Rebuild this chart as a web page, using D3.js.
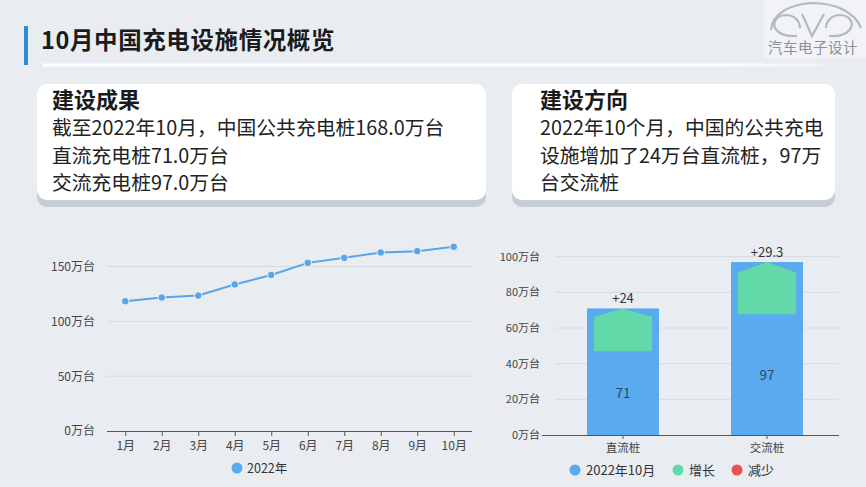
<!DOCTYPE html>
<html><head><meta charset="utf-8">
<script src="https://cdn.jsdelivr.net/npm/d3@7"></script>
<style>
html,body{margin:0;padding:0;background:#e9edf2;}
svg{display:block;font-family:"Noto Sans CJK SC","Noto Sans",sans-serif;}
</style></head>
<body>
<svg id="c" width="866" height="487"></svg>
<script>
// ---- data ----
const months = ["1月","2月","3月","4月","5月","6月","7月","8月","9月","10月"];
const totalPiles = [118.3, 121.7, 123.5, 133.6, 142.3, 153.3, 157.9, 162.8, 164.0, 168.0];
const lineTicks = [0, 50, 100, 150];
const lineSeriesName = "2022年";

const barCategories = ["直流桩", "交流桩"];
const barValues = [71, 97];
const barGrowth = [24, 29.3];
const barTicks = [0, 20, 40, 60, 80, 100];
const barLegend = ["2022年10月", "增长", "减少"];

const title = "10月中国充电设施情况概览";
const card1Title = "建设成果";
const card1Lines = ["截至2022年10月，中国公共充电桩168.0万台", "直流充电桩71.0万台", "交流充电桩97.0万台"];
const card2Title = "建设方向";
const card2Lines = ["2022年10个月，中国的公共充电", "设施增加了24万台直流桩，97万", "台交流桩"];
const logoText = "汽车电子设计";

// ---- colours ----
const blue = "#59aaef", green = "#62d9a9", red = "#e8514f", lineBlue = "#5aa5e6";

const svg = d3.select("#c");
const defs = svg.append("defs");
const g1 = defs.append("linearGradient").attr("id","wl").attr("x1","0").attr("x2","1");
g1.append("stop").attr("offset","0").attr("stop-color","#fff").attr("stop-opacity",1);
g1.append("stop").attr("offset","0.85").attr("stop-color","#fff").attr("stop-opacity",1);
g1.append("stop").attr("offset","1").attr("stop-color","#fff").attr("stop-opacity",0.3);

// header
svg.append("rect").attr("x",24).attr("y",26).attr("width",4).attr("height",39).attr("fill","#2b8fcf");
svg.append("text").attr("x",41).attr("y",48.5).attr("font-size",23.5).attr("font-weight",700)
  .attr("letter-spacing",0.6).attr("fill","#1b1b1b").text(title);
svg.append("rect").attr("x",43).attr("y",63.5).attr("width",782).attr("height",3).attr("fill","url(#wl)");

// logo
const logo = svg.append("g");
logo.append("rect").attr("x",764).attr("y",0).attr("width",102).attr("height",58).attr("fill","#f1f3f6");
const ls = {fill:"none", stroke:"#b4b8bf", "stroke-width":2.2};
function lp(d){ const p = logo.append("path").attr("d",d); Object.entries(ls).forEach(([k,v])=>p.attr(k,v)); }
lp("M771,30 C772,14 790,4 812,3 C835,3 855,12 861,28");
lp("M797,36 C770,38 768,16 786,15 C795,15 800,22 800,28");
lp("M829,36 C856,38 858,16 840,15 C831,15 826,22 826,28");
lp("M802,14 L812,36 L824,14");
logo.append("text").attr("x",813).attr("y",53).attr("text-anchor","middle").attr("font-size",14.5)
  .attr("fill","#8d9096").attr("letter-spacing",0.5).text(logoText);

// cards
function card(x, y, w, h, t, lines, tx) {
  svg.append("rect").attr("x",x).attr("y",y+7).attr("width",w).attr("height",h).attr("rx",10).attr("fill","#c8cdd5");
  svg.append("rect").attr("x",x).attr("y",y).attr("width",w).attr("height",h).attr("rx",10).attr("fill","#ffffff");
  svg.append("text").attr("x",tx).attr("y",y+24).attr("font-size",22).attr("font-weight",700).attr("fill","#1b1b1b").text(t);
  lines.forEach((l,i)=>{
    svg.append("text").attr("x",tx).attr("y",y+51+i*27.6).attr("font-size",19.8).attr("fill","#222").text(l);
  });
}
card(37, 84, 449, 116, card1Title, card1Lines, 52);
card(512, 84, 323, 116, card2Title, card2Lines, 540);

// ---- line chart ----
const lx = d3.scalePoint().domain(months).range([107, 472]).padding(0.5);
const ly = d3.scaleLinear().domain([0, 150]).range([431, 266.5]);
const lc = svg.append("g");
lc.selectAll("line.grid").data(lineTicks.filter(d=>d>0)).enter().append("line")
  .attr("x1",107).attr("x2",472).attr("y1",d=>ly(d)).attr("y2",d=>ly(d)).attr("stroke","#d6dbe2").attr("stroke-width",1);
const lyAxis = lc.append("g").attr("transform","translate(98,0)")
  .call(d3.axisLeft(ly).tickValues(lineTicks).tickSize(0).tickFormat(d=>d+"万台"));
lyAxis.select(".domain").remove();
lyAxis.selectAll("text").attr("font-size",12).attr("fill","#444").attr("font-family","Noto Sans CJK SC");
const lxAxis = lc.append("g").attr("transform","translate(0,431)")
  .call(d3.axisBottom(lx).tickSize(5).tickSizeOuter(0).tickPadding(5));
lxAxis.select(".domain").attr("stroke","#555").attr("d","M107,0.5H472");
lxAxis.selectAll(".tick line").attr("stroke","#555");
lxAxis.selectAll("text").attr("font-size",12).attr("fill","#444").attr("font-family","Noto Sans CJK SC");
const line = d3.line().x((d,i)=>lx(months[i])).y(d=>ly(d));
lc.append("path").datum(totalPiles).attr("d",line).attr("fill","none").attr("stroke",lineBlue).attr("stroke-width",2);
lc.selectAll("circle.pt").data(totalPiles).enter().append("circle")
  .attr("cx",(d,i)=>lx(months[i])).attr("cy",d=>ly(d)).attr("r",3.8)
  .attr("fill",lineBlue).attr("stroke","#eef2f7").attr("stroke-width",1);
lc.append("circle").attr("cx",237).attr("cy",468).attr("r",5.5).attr("fill",blue);
lc.append("text").attr("x",247).attr("y",472.5).attr("font-size",12.5).attr("fill","#333").text(lineSeriesName);

// ---- bar chart ----
const bx = d3.scaleBand().domain(barCategories).range([551, 839]);
const by = d3.scaleLinear().domain([0, 100]).range([435, 256.7]);
const bw = 72;
const bc = svg.append("g");
bc.selectAll("line.grid").data(barTicks.filter(d=>d>0)).enter().append("line")
  .attr("x1",555).attr("x2",839).attr("y1",d=>by(d)).attr("y2",d=>by(d)).attr("stroke","#d6dbe2").attr("stroke-width",1);
const byAxis = bc.append("g").attr("transform","translate(543,0)")
  .call(d3.axisLeft(by).tickValues(barTicks).tickSize(0).tickFormat(d=>d+"万台"));
byAxis.select(".domain").remove();
byAxis.selectAll("text").attr("font-size",11).attr("fill","#444").attr("font-family","Noto Sans CJK SC");
const bxAxis = bc.append("g").attr("transform","translate(0,435)")
  .call(d3.axisBottom(bx).tickSize(4).tickSizeOuter(0).tickPadding(5));
bxAxis.select(".domain").attr("stroke","#555").attr("d","M542,0.5H839");
bxAxis.selectAll(".tick line").attr("stroke","#555");
bxAxis.selectAll("text").attr("font-size",11.5).attr("fill","#444").attr("font-family","Noto Sans CJK SC");

barCategories.forEach((c,i)=>{
  const cx = bx(c) + bx.bandwidth()/2;
  const v = barValues[i], gr = barGrowth[i];
  bc.append("rect").attr("x",cx-bw/2).attr("y",by(v)).attr("width",bw).attr("height",by(0)-by(v)).attr("fill",blue);
  const top = by(v), bot = by(v-gr), hl = bw/2 - 7;
  const sh = top + (bot-top)*0.2;
  bc.append("path").attr("d",`M${cx-hl},${bot}L${cx-hl},${sh}L${cx},${top}L${cx+hl},${sh}L${cx+hl},${bot}Z`).attr("fill",green);
  bc.append("text").attr("x",cx).attr("y",top-5).attr("text-anchor","middle").attr("font-size",13).attr("fill","#333").text("+"+gr);
  bc.append("text").attr("x",cx).attr("y",by((v-gr)/2)+5).attr("text-anchor","middle").attr("font-size",13.5).attr("fill","#2c4763").text(v);
});
const legX = [575, 678, 737];
const legC = [blue, green, red];
barLegend.forEach((t,i)=>{
  bc.append("circle").attr("cx",legX[i]).attr("cy",470).attr("r",5.5).attr("fill",legC[i]);
  bc.append("text").attr("x",legX[i]+11).attr("y",474.5).attr("font-size",13).attr("fill","#333").text(t);
});
</script>
</body></html>
